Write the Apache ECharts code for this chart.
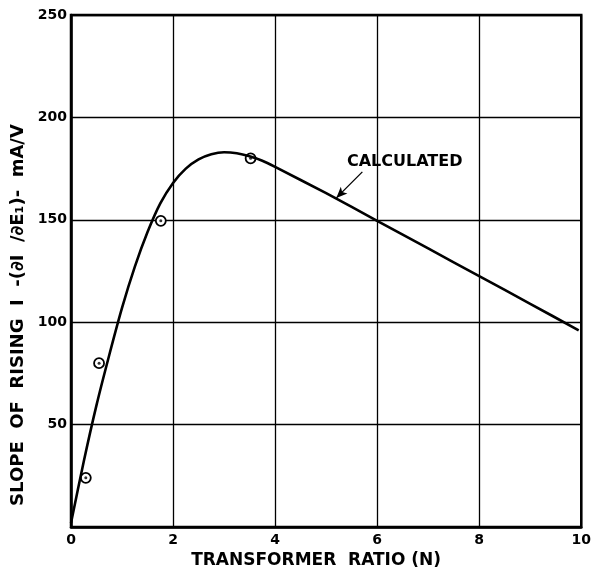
<!DOCTYPE html>
<html>
<head>
<meta charset="utf-8">
<script src="https://cdn.jsdelivr.net/npm/echarts@6/dist/echarts.min.js"></script>
<style>html,body{margin:0;padding:0;background:#fff;}#c{width:594px;height:577px;}</style>
</head>
<body>
<div id="c"></div>
<script>
// Calculated curve (transformer ratio N, slope mA/V)
const curveX = [0, 0.25, 0.5, 0.75, 1.0, 1.25, 1.5, 1.75, 2.0, 2.25, 2.5, 2.75, 3.0, 3.25, 3.5, 3.75, 4.0, 5.0, 6.0, 7.0, 8.0, 9.0, 9.95];
const curveY = [2, 32, 59.5, 84, 107, 127, 144, 158, 168, 175, 179.5, 182, 183, 182.5, 181, 178.8, 175.8, 163, 149.5, 136, 122.5, 109, 96];
// Measured points
const measX = [0.29, 0.55, 1.76, 3.52];
const measY = [24, 80, 149.5, 180];
// Axis ticks
const xTicks = [0, 2, 4, 6, 8, 10];
const yTicks = [0, 50, 100, 150, 200, 250];
// Annotation
const annoText = 'CALCULATED';
const annoTextPos = [6.54, 178.3];
const annoArrowFrom = [5.71, 173.4];
const annoArrowTo = [5.2, 160.7];

const FONT = 'DejaVu Sans';
const chart = echarts.init(document.getElementById('c'));
const curve = curveX.map((x, i) => [x, curveY[i]]);
const meas = measX.map((x, i) => [x, measY[i]]);

chart.setOption({
  animation: false,
  backgroundColor: '#fff',
  grid: { left: 71, right: 12, top: 15, bottom: 50, show: true, borderColor: '#000', borderWidth: 2.5, backgroundColor: 'transparent' },
  xAxis: {
    type: 'value', min: xTicks[0], max: xTicks[xTicks.length - 1], interval: 2,
    name: 'TRANSFORMER  RATIO (N)', nameLocation: 'middle', nameGap: 21,
    nameTextStyle: { fontFamily: FONT, fontWeight: 'bold', fontSize: 17, color: '#000', padding: [0, 20, 0, 0] },
    axisLine: { show: true, lineStyle: { color: '#000', width: 2.5 } },
    axisTick: { show: false },
    axisLabel: { fontFamily: FONT, fontWeight: 'bold', fontSize: 14, color: '#000', margin: 6 },
    splitLine: { show: true, lineStyle: { color: '#000', width: 1.3 } }
  },
  yAxis: {
    type: 'value', min: yTicks[0], max: yTicks[yTicks.length - 1], interval: 50,
    name: 'SLOPE  OF  RISING  I  -(∂I  /∂E₁)-  mA/V', nameLocation: 'middle', nameGap: 31,
    nameTextStyle: { fontFamily: FONT, fontWeight: 'bold', fontSize: 18, color: '#000', padding: [0, 88, 0, 0] },
    axisLine: { show: true, lineStyle: { color: '#000', width: 2.5 } },
    axisTick: { show: false },
    axisLabel: { fontFamily: FONT, fontWeight: 'bold', fontSize: 14, color: '#000', margin: 4,
      formatter: v => (v === 0 ? '' : String(v)) },
    splitLine: { show: true, lineStyle: { color: '#000', width: 1.3 } }
  },
  series: [
    {
      type: 'line', data: curve, smooth: 0.25, showSymbol: false, symbol: 'none',
      lineStyle: { color: '#000', width: 2.6 },
      markLine: {
        silent: true, symbol: ['none', 'arrow'], symbolSize: [7, 11],
        lineStyle: { color: '#000', width: 1.3, type: 'solid' },
        label: { show: false },
        data: [[{ coord: annoArrowFrom }, { coord: annoArrowTo }]]
      },
      markPoint: {
        silent: true, symbol: 'circle', symbolSize: 0,
        label: { show: true, position: 'inside', formatter: annoText, fontFamily: FONT, fontWeight: 'bold', fontSize: 16, color: '#000' },
        data: [{ coord: annoTextPos }]
      }
    },
    {
      type: 'scatter', data: meas, symbol: 'circle', symbolSize: 10,
      itemStyle: { color: '#fff', borderColor: '#000', borderWidth: 1.8, opacity: 1 }
    },
    {
      type: 'scatter', data: meas, symbol: 'circle', symbolSize: 3,
      itemStyle: { color: '#000' }
    }
  ]
});
</script>
</body>
</html>
